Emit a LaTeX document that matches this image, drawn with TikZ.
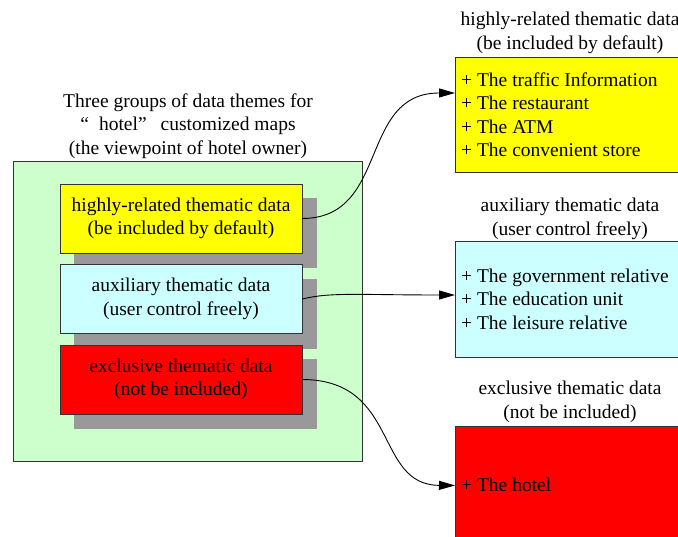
\documentclass[tikz,border=0pt]{standalone}
\usepackage{fontspec}
\setmainfont{Liberation Serif}
\usetikzlibrary{arrows.meta}
\definecolor{grpgreen}{HTML}{CCFFCC}
\definecolor{hiyellow}{HTML}{FFFF00}
\definecolor{auxcyan}{HTML}{CCFFFF}
\definecolor{exred}{HTML}{FF0000}
\definecolor{shadowgray}{HTML}{999999}
\definecolor{edgegray}{HTML}{333333}
\begin{document}
\begin{tikzpicture}[x=1pt,y=-1pt,
  font=\fontsize{19.5}{23.5}\selectfont,
  frame/.style={draw=edgegray, line width=0.9pt},
  themebox/.style={frame, minimum width=242pt, minimum height=69pt, align=center, inner sep=0pt},
  shadowbox/.style={fill=shadowgray, minimum width=243pt, minimum height=70pt, inner sep=0pt},
  listbox/.style={frame, anchor=north west, minimum width=240pt, inner sep=0pt},
  listtext/.style={align=left, anchor=west, inner sep=0pt},
  titletext/.style={align=center, inner sep=0pt},
  link/.style={-{Triangle[length=16pt,width=9pt]}, line width=0.9pt}]
\useasboundingbox (0,0) rectangle (678,537);
\clip (0,0) rectangle (678,537);
% left group
\node (grouptitle) [titletext] at (188,126) {Three groups of data themes for\\
  “\hspace{10pt}hotel”\hspace{14pt}customized maps\\(the viewpoint of hotel owner)};
\node (group) [frame, fill=grpgreen, minimum width=349pt, minimum height=300pt, inner sep=0pt] at (187.5,311) {};
\node (hishadow) [shadowbox] at (195.5,233) {};
\node (auxshadow) [shadowbox] at (195.5,314) {};
\node (exshadow) [shadowbox] at (195.5,394.5) {};
\node (hibox) [themebox, fill=hiyellow] at (181,218.5) {highly-related thematic data\\(be included by default)};
\node (auxbox) [themebox, fill=auxcyan] at (181,299) {auxiliary thematic data\\(user control freely)};
\node (exbox) [themebox, fill=exred] at (181,379.5) {exclusive thematic data\\(not be included)};
% right lists
\node (hititle) [titletext] at (570,33) {highly-related thematic data\\(be included by default)};
\node (hilist) [listbox, fill=hiyellow, minimum height=115pt] at (455,57) {};
\node (hitext) [listtext] at (461,114.5) {+ The traffic Information\\+ The restaurant\\+ The ATM\\+ The convenient store};
\node (auxtitle) [titletext] at (570,219) {auxiliary thematic data\\(user control freely)};
\node (auxlist) [listbox, fill=auxcyan, minimum height=116pt] at (455,241) {};
\node (auxtext) [listtext] at (461,299) {+ The government relative\\+ The education unit\\+ The leisure relative};
\node (extitle) [titletext] at (570,402) {exclusive thematic data\\(not be included)};
\node (exlist) [listbox, fill=exred, minimum height=118pt] at (455,426) {};
\node (extext) [listtext] at (461,485) {+ The hotel};
% connectors
\coordinate (hiin) at (455,93);
\coordinate (auxin) at (455,295);
\draw[link] (hibox.east) .. controls (390,218) and (358,93) .. (hiin);
\draw[link] (auxbox.east) .. controls (330,292) and (360,295) .. (auxin);
\draw[link] (exbox.east) .. controls (400,380) and (374,485) .. (exlist.west);
\end{tikzpicture}
\end{document}
